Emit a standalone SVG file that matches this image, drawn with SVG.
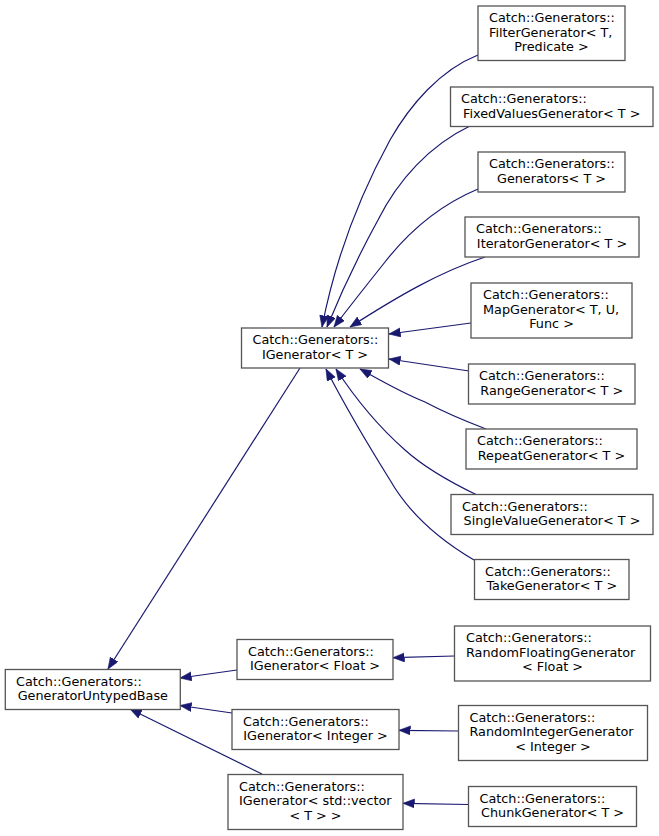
<svg xmlns="http://www.w3.org/2000/svg" width="659" height="836" viewBox="0 0 659 836">
<style>
.n rect{fill:#ffffff;stroke:#555555;stroke-width:1.3}
.n text{font-family:"DejaVu Sans",sans-serif;font-size:12.8px;fill:#000000}
.c{text-anchor:middle}
.e path{fill:none;stroke:#191970;stroke-width:1.2}
</style>
<defs>
<marker id="ah" markerUnits="userSpaceOnUse" markerWidth="12" markerHeight="10" refX="11.5" refY="4.5" orient="auto">
<path d="M0,0 L11.5,4.5 L0,9 z" fill="#191970" stroke="#191970" stroke-width="0.6"/>
</marker>
</defs>
<rect width="659" height="836" fill="#ffffff"/>
<g id="connectors" class="e">
<path marker-end="url(#ah)" d="M478,55 C440,70 410,105 390,140 C360,195 335,260 322,327"/>
<path marker-end="url(#ah)" d="M470,126 C430,145 398,180 378,220 C355,262 338,300 327,327"/>
<path marker-end="url(#ah)" d="M478,189 C440,205 410,230 385,262 C365,287 347,310 334,327"/>
<path marker-end="url(#ah)" d="M485,257 C440,272 400,295 350,327"/>
<path marker-end="url(#ah)" d="M471,323 L389,334"/>
<path marker-end="url(#ah)" d="M469,371 L389,359"/>
<path marker-end="url(#ah)" d="M486,429 C460,419 440,410 425,402 C400,392 380,380 360,369"/>
<path marker-end="url(#ah)" d="M477,495 C450,482 425,468 405,450 C380,428 355,398 336,369"/>
<path marker-end="url(#ah)" d="M474,560 C440,540 410,515 390,480 C365,440 342,400 326,369"/>
<path marker-end="url(#ah)" d="M300,368 L108,669"/>
<path marker-end="url(#ah)" d="M237,670 L180,678"/>
<path marker-end="url(#ah)" d="M232,713 L180,705.5"/>
<path marker-end="url(#ah)" d="M262,774 L130,709"/>
<path marker-end="url(#ah)" d="M454.5,656 L393,657.7"/>
<path marker-end="url(#ah)" d="M458.5,731 L399,730.3"/>
<path marker-end="url(#ah)" d="M468.5,804.5 L403,803.3"/>
</g>
<g id="FilterGenerator" class="n">
<rect x="478" y="6" width="147" height="54.5"/>
<text x="489" y="22">Catch::Generators::</text>
<text x="489" y="36.5">FilterGenerator&lt; T,</text>
<text class="c" x="551.5" y="51">Predicate &gt;</text>
</g>
<g id="FixedValuesGenerator" class="n">
<rect x="450.5" y="87" width="202.5" height="39.5"/>
<text x="461" y="103">Catch::Generators::</text>
<text class="c" x="551.75" y="117.5">FixedValuesGenerator&lt; T &gt;</text>
</g>
<g id="Generators" class="n">
<rect x="478" y="152" width="147" height="40"/>
<text x="489" y="168">Catch::Generators::</text>
<text class="c" x="551.5" y="182.5">Generators&lt; T &gt;</text>
</g>
<g id="IteratorGenerator" class="n">
<rect x="465" y="217" width="174" height="40"/>
<text x="476" y="233">Catch::Generators::</text>
<text class="c" x="552" y="247.5">IteratorGenerator&lt; T &gt;</text>
</g>
<g id="MapGenerator" class="n">
<rect x="471" y="283" width="161" height="55"/>
<text x="483" y="299">Catch::Generators::</text>
<text x="483" y="313.5">MapGenerator&lt; T, U,</text>
<text class="c" x="551.5" y="328">Func &gt;</text>
</g>
<g id="IGeneratorT" class="n">
<rect x="241.5" y="328" width="147" height="40"/>
<text x="252.5" y="344">Catch::Generators::</text>
<text class="c" x="315" y="358.5">IGenerator&lt; T &gt;</text>
</g>
<g id="RangeGenerator" class="n">
<rect x="468.5" y="364" width="166.5" height="40"/>
<text x="479" y="380">Catch::Generators::</text>
<text class="c" x="551.75" y="394.5">RangeGenerator&lt; T &gt;</text>
</g>
<g id="RepeatGenerator" class="n">
<rect x="466" y="429" width="171" height="40"/>
<text x="477" y="445">Catch::Generators::</text>
<text class="c" x="551.5" y="459.5">RepeatGenerator&lt; T &gt;</text>
</g>
<g id="SingleValueGenerator" class="n">
<rect x="451" y="494.5" width="202" height="40"/>
<text x="462" y="510.5">Catch::Generators::</text>
<text class="c" x="552" y="525">SingleValueGenerator&lt; T &gt;</text>
</g>
<g id="TakeGenerator" class="n">
<rect x="474.5" y="559.5" width="154.5" height="40"/>
<text x="485" y="575.5">Catch::Generators::</text>
<text class="c" x="551.75" y="590">TakeGenerator&lt; T &gt;</text>
</g>
<g id="GeneratorUntypedBase" class="n">
<rect x="5.3" y="669.5" width="175" height="40"/>
<text x="16" y="685.5">Catch::Generators::</text>
<text class="c" x="92.8" y="700">GeneratorUntypedBase</text>
</g>
<g id="IGeneratorFloat" class="n">
<rect x="237" y="639.5" width="156" height="40"/>
<text x="248" y="655.5">Catch::Generators::</text>
<text class="c" x="315" y="670">IGenerator&lt; Float &gt;</text>
</g>
<g id="IGeneratorInteger" class="n">
<rect x="232" y="709.5" width="167" height="40"/>
<text x="243" y="725.5">Catch::Generators::</text>
<text class="c" x="315.5" y="740">IGenerator&lt; Integer &gt;</text>
</g>
<g id="IGeneratorVector" class="n">
<rect x="228" y="774.5" width="175" height="55"/>
<text x="239" y="790.5">Catch::Generators::</text>
<text x="239" y="805">IGenerator&lt; std::vector</text>
<text class="c" x="315.5" y="819.5">&lt; T &gt; &gt;</text>
</g>
<g id="RandomFloatingGenerator" class="n">
<rect x="454.5" y="626" width="196" height="55"/>
<text x="466" y="642">Catch::Generators::</text>
<text x="466" y="656.5">RandomFloatingGenerator</text>
<text class="c" x="552.5" y="671">&lt; Float &gt;</text>
</g>
<g id="RandomIntegerGenerator" class="n">
<rect x="458.5" y="705.5" width="189" height="55"/>
<text x="469.5" y="721.5">Catch::Generators::</text>
<text x="469.5" y="736">RandomIntegerGenerator</text>
<text class="c" x="553" y="750.5">&lt; Integer &gt;</text>
</g>
<g id="ChunkGenerator" class="n">
<rect x="468.5" y="786.5" width="168" height="40"/>
<text x="479.5" y="802.5">Catch::Generators::</text>
<text class="c" x="552.5" y="817">ChunkGenerator&lt; T &gt;</text>
</g>
</svg>
